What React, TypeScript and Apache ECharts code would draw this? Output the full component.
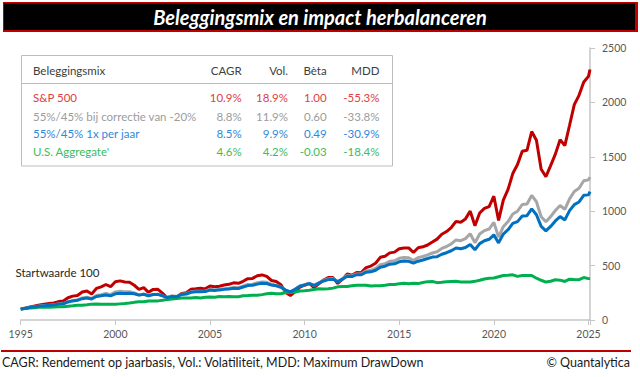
import React, { useEffect, useRef } from "react";
import * as echarts from "echarts";

// ---- Data (quarter-end index values, start = 100 in Jan 1995) ----
const startYear = 1995;
const pointsPerYear = 4;
const lastDate = 2025.08;

const sp500 = [
  100, 109.7, 120.1, 129.6, 137.4,
  145.0, 151.5, 156.2, 169.2,
  173.8, 204.2, 219.5, 225.8,
  257.4, 265.9, 239.6, 290.4,
  304.9, 326.3, 306.0, 351.4,
  359.5, 349.8, 346.3, 319.4,
  281.4, 298.0, 254.2, 281.4,
  282.2, 244.4, 202.1, 219.1,
  212.1, 244.8, 251.2, 281.8,
  286.6, 291.5, 286.0, 312.3,
  305.7, 310.0, 321.2, 327.9,
  341.7, 336.9, 356.1, 379.9,
  382.2, 406.3, 414.4, 400.7,
  363.0, 353.2, 323.5, 252.7,
  224.9, 260.7, 301.4, 319.5,
  336.7, 298.3, 332.0, 367.9,
  389.6, 390.0, 335.8, 375.4,
  422.7, 410.9, 437.2, 435.4,
  481.6, 495.6, 521.4, 576.1,
  586.5, 617.0, 623.8, 654.4,
  660.9, 662.9, 620.5, 663.9,
  672.5, 689.3, 716.2, 743.4,
  788.7, 813.2, 849.8, 905.9,
  898.6, 929.2, 1000.7, 865.6,
  983.3, 1025.6, 1043.0, 1138.0,
  915.0, 1102.5, 1200.6, 1345.9,
  1429.3, 1550.8, 1560.1, 1731.7,
  1652.0, 1386.1, 1318.2, 1418.4,
  1524.8, 1657.4, 1602.7, 1790.2,
  1980.0, 2065.1, 2187.0, 2239.5,
  2302,
];

const mixCorrection = [
  100, 107.6, 116.1, 122.3, 128.9,
  132.2, 135.9, 139.4, 148.3,
  150.5, 169.2, 179.4, 184.8,
  202.9, 209.1, 197.4, 225.6,
  233.4, 244.4, 233.6, 258.6,
  264.4, 260.3, 260.5, 248.6,
  229.9, 237.9, 222.9, 235.3,
  235.7, 222.4, 208.2, 220.0,
  217.3, 238.4, 241.9, 259.4,
  264.8, 265.0, 265.1, 281.0,
  276.7, 282.1, 287.8, 292.3,
  299.7, 296.9, 311.6, 326.3,
  329.4, 342.5, 350.1, 345.9,
  327.0, 319.9, 302.7, 272.7,
  258.6, 283.2, 313.3, 325.1,
  338.3, 317.3, 341.7, 363.7,
  378.0, 381.3, 352.4, 378.7,
  409.1, 404.6, 423.5, 422.6,
  451.6, 457.0, 474.2, 508.6,
  517.8, 540.1, 544.6, 566.8,
  573.5, 572.3, 547.5, 573.6,
  583.7, 598.0, 615.8, 627.9,
  657.8, 675.6, 700.1, 736.1,
  729.1, 748.2, 793.4, 710.7,
  789.7, 821.5, 836.2, 897.1,
  761.5, 857.4, 904.4, 973.6,
  999.7, 1061.5, 1066.1, 1144.9,
  1086.8, 949.0, 903.6, 950.1,
  1006.2, 1052.1, 1017.7, 1113.0,
  1181.2, 1211.1, 1279.7, 1287.9,
  1313,
];

const mixYearly = [
  100, 107.6, 116.1, 122.3, 128.9,
  131.8, 135.3, 138.8, 147.4,
  149.2, 166.2, 175.6, 180.9,
  195.8, 201.5, 193.7, 216.4,
  222.0, 229.7, 221.9, 240.6,
  245.9, 244.3, 246.4, 241.2,
  228.7, 236.2, 223.0, 234.5,
  234.9, 221.1, 206.4, 216.8,
  214.4, 234.8, 238.0, 254.9,
  260.4, 259.8, 260.9, 275.0,
  271.2, 276.8, 281.5, 285.6,
  291.6, 289.3, 303.1, 316.0,
  319.3, 329.6, 337.2, 335.5,
  321.1, 314.7, 300.6, 275.2,
  258.7, 282.2, 311.3, 322.5,
  334.8, 317.3, 339.6, 358.8,
  371.1, 375.1, 352.6, 375.4,
  401.9, 399.0, 416.2, 415.5,
  439.5, 442.5, 457.1, 485.6,
  494.4, 512.9, 516.5, 535.0,
  542.0, 539.1, 523.1, 540.5,
  551.7, 565.0, 578.3, 582.4,
  604.1, 618.4, 636.5, 661.6,
  654.3, 666.1, 694.7, 645.4,
  701.8, 728.2, 741.9, 782.4,
  708.7, 790.3, 829.7, 887.5,
  904.2, 955.2, 958.9, 1021.4,
  967.5, 860.1, 819.2, 860.0,
  910.6, 951.0, 919.9, 1005.3,
  1060.5, 1084.7, 1145.7, 1150.1,
  1180,
];

const usAggregate = [
  100, 105.0, 111.3, 113.4, 118.5,
  116.5, 116.8, 118.9, 122.8,
  122.1, 126.5, 130.4, 134.7,
  136.3, 139.6, 145.9, 146.4,
  145.9, 144.3, 145.0, 145.2,
  148.2, 150.9, 155.5, 162.1,
  167.0, 167.9, 175.4, 175.7,
  175.7, 181.7, 189.5, 193.8,
  196.5, 201.7, 201.3, 201.7,
  207.2, 201.9, 208.5, 210.4,
  209.4, 215.4, 214.1, 215.5,
  214.5, 214.4, 222.2, 224.7,
  228.2, 227.1, 233.3, 240.5,
  245.3, 242.2, 241.5, 253.0,
  253.3, 257.6, 267.1, 267.9,
  272.9, 280.1, 286.7, 285.3,
  286.5, 293.0, 304.8, 307.6,
  308.5, 315.0, 320.0, 320.5,
  320.0, 312.5, 314.4, 314.1,
  319.8, 326.2, 326.8, 332.9,
  338.5, 333.2, 337.5, 334.6,
  344.7, 352.7, 354.4, 343.3,
  346.1, 351.1, 354.1, 355.3,
  350.1, 349.5, 349.4, 355.3,
  365.3, 376.4, 384.3, 386.2,
  397.9, 409.6, 412.1, 415.2,
  401.1, 408.4, 408.7, 409.0,
  384.0, 365.3, 348.4, 355.8,
  369.6, 366.1, 354.3, 375.4,
  372.6, 370.8, 390.2, 380.3,
  382,
];

// ---- Table ----
const mixNames = ["S&P 500", "55%/45% bij correctie van -20%", "55%/45% 1x per jaar", "U.S. Aggregate'"];
const cagr = ["10.9%", "8.8%", "8.5%", "4.6%"];
const vol = ["18.9%", "11.9%", "9.9%", "4.2%"];
const beta = ["1.00", "0.60", "0.49", "-0.03"];
const mdd = ["-55.3%", "-33.8%", "-30.9%", "-18.4%"];
const headers = ["Beleggingsmix", "CAGR", "Vol.", "Bèta", "MDD"];

const lineColors = ["#C00000", "#A6A6A6", "#0070C0", "#00B050"];
const textColors = ["#E0403F", "#9C9C9C", "#3089D6", "#3DBB5E"];

const titleText = "Beleggingsmix en impact herbalanceren";
const footerLeft = "CAGR: Rendement op jaarbasis, Vol.: Volatiliteit, MDD: Maximum DrawDown";
const footerRight = "© Quantalytica";
const startLabel = "Startwaarde 100";

const FONT = "Lato, 'Open Sans', sans-serif";

export default function App() {
  const ref = useRef<HTMLDivElement>(null);

  useEffect(() => {
    if (!ref.current) return;
    const chart = echarts.init(ref.current, undefined, { renderer: "svg" });

    const dates: number[] = [];
    for (let i = 0; i <= 30 * pointsPerYear; i++) dates.push(startYear + i / pointsPerYear);
    dates.push(lastDate);

    const seriesValues = [sp500, mixCorrection, mixYearly, usAggregate];
    const drawOrder = [0, 1, 3, 2];

    const series = drawOrder.map((k) => ({
      name: mixNames[k],
      type: "line",
      showSymbol: false,
      symbol: "none",
      clip: false,
      z: 2,
      lineStyle: { color: lineColors[k], width: 3 },
      itemStyle: { color: lineColors[k] },
      data: dates.map((d, i) => [d, seriesValues[k][i]]),
    }));

    const colRight = [241.7, 288, 326.7, 379.5];
    const rowY = [97.7, 116, 133.3, 151];
    const tableFont = `11.5px ${FONT}`;

    const tableTexts: any[] = [];
    tableTexts.push({
      type: "text", x: 33, y: 70.7, z: 20,
      style: { text: headers[0], fill: "#404040", font: tableFont, textAlign: "left", textVerticalAlign: "middle" },
    });
    for (let c = 0; c < 4; c++) {
      tableTexts.push({
        type: "text", x: colRight[c], y: 70.7, z: 20,
        style: { text: headers[c + 1], fill: "#404040", font: tableFont, textAlign: "right", textVerticalAlign: "middle" },
      });
    }
    const cols = [cagr, vol, beta, mdd];
    for (let r = 0; r < mixNames.length; r++) {
      tableTexts.push({
        type: "text", x: 33, y: rowY[r], z: 20,
        style: { text: mixNames[r], fill: textColors[r], font: tableFont, textAlign: "left", textVerticalAlign: "middle" },
      });
      for (let c = 0; c < 4; c++) {
        tableTexts.push({
          type: "text", x: colRight[c], y: rowY[r], z: 20,
          style: { text: cols[c][r], fill: textColors[r], font: tableFont, textAlign: "right", textVerticalAlign: "middle" },
        });
      }
    }

    const option: any = {
      animation: false,
      backgroundColor: "#ffffff",
      textStyle: { fontFamily: FONT },
      grid: { left: 20.7, right: 50, top: 48, bottom: 57, containLabel: false },
      xAxis: {
        type: "value",
        min: 1995,
        max: lastDate,
        interval: 5,
        axisLine: { show: true, lineStyle: { color: "#c6c6c6", width: 1.5 } },
        axisTick: { show: true, length: 5, lineStyle: { color: "#c6c6c6", width: 1 } },
        axisLabel: {
          color: "#595959",
          fontSize: 10.5,
          fontFamily: FONT,
          margin: 8,
          formatter: (v: number) => (Math.abs(v % 5) < 1e-6 ? String(Math.round(v)) : ""),
        },
        splitLine: { show: false },
      },
      yAxis: {
        type: "value",
        position: "right",
        min: 0,
        max: 2500,
        interval: 500,
        axisLine: { show: true, lineStyle: { color: "#c6c6c6", width: 1.5 } },
        axisTick: { show: true, length: 5, lineStyle: { color: "#c6c6c6", width: 1 } },
        axisLabel: {
          color: "#595959",
          fontSize: 10.5,
          fontFamily: FONT,
          margin: 12,
          formatter: (v: number) => String(v),
        },
        splitLine: { show: false },
      },
      series,
      graphic: [
        { type: "rect", z: 10, shape: { x: 3, y: 2, width: 635, height: 30 }, style: { fill: "#C00000" } },
        { type: "rect", z: 11, shape: { x: 4, y: 3.5, width: 631, height: 26.5 }, style: { fill: "#000000" } },
        {
          type: "text", x: 320, y: 17, z: 12,
          style: { text: titleText, fill: "#ffffff", font: `italic bold 20px ${FONT}`, textAlign: "center", textVerticalAlign: "middle" },
        },
        {
          type: "rect", z: 15,
          shape: { x: 21.5, y: 55.5, width: 371, height: 110.5 },
          style: { fill: "#ffffff", stroke: "#bdbdbd", lineWidth: 1 },
        },
        {
          type: "line", z: 16,
          shape: { x1: 21.5, y1: 83.5, x2: 392.5, y2: 83.5 },
          style: { stroke: "#bdbdbd", lineWidth: 1 },
        },
        ...tableTexts,
        {
          type: "text", x: 15.5, y: 272.5, z: 20,
          style: { text: startLabel, fill: "#262626", font: `11.5px ${FONT}`, textAlign: "left", textVerticalAlign: "middle" },
        },
        { type: "rect", z: 10, shape: { x: 1, y: 350, width: 630, height: 2 }, style: { fill: "#C00000" } },
        {
          type: "text", x: 2, y: 362, z: 20,
          style: { text: footerLeft, fill: "#1a1a1a", font: `12.5px ${FONT}`, textAlign: "left", textVerticalAlign: "middle" },
        },
        {
          type: "text", x: 630, y: 362, z: 20,
          style: { text: footerRight, fill: "#1a1a1a", font: `12.5px ${FONT}`, textAlign: "right", textVerticalAlign: "middle" },
        },
      ],
    };

    chart.setOption(option);
    return () => chart.dispose();
  }, []);

  return (
    <div
      ref={ref}
      style={{ position: "fixed", left: 0, top: 0, width: 640, height: 377, background: "#ffffff" }}
    />
  );
}
